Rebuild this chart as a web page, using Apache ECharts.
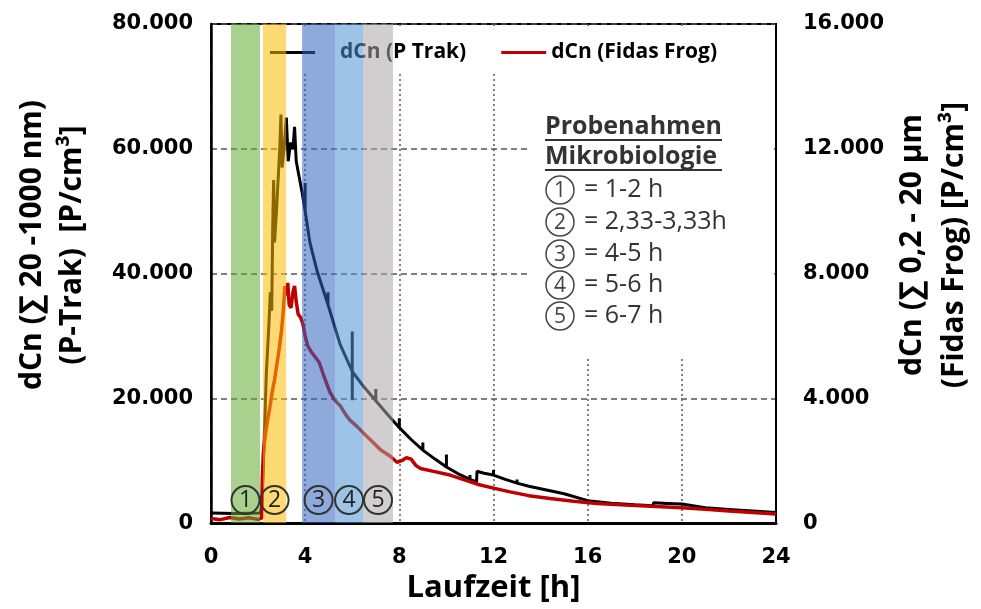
<!DOCTYPE html>
<html>
<head>
<meta charset="utf-8">
<script src="https://cdn.jsdelivr.net/npm/echarts@6/dist/echarts.min.js"></script>
<style>
  html, body { margin: 0; padding: 0; background: #fff; }
  #main { width: 981px; height: 609px; }
</style>
</head>
<body>
<div id="main"></div>
<script>
// P-Trak (linke Achse), [Laufzeit h, P/cm3]
var pTrakData = [
  [0, 1600], [1.0, 1550], [2.1, 1600], [2.17, 3000], [2.25, 12000], [2.35, 24000],
  [2.45, 31000], [2.52, 37000], [2.58, 34000], [2.62, 47000], [2.66, 55000], [2.7, 45000],
  [2.78, 50000], [2.85, 55000], [2.92, 60000], [2.97, 65500], [3.02, 57000], [3.1, 60000],
  [3.2, 65000], [3.28, 58000], [3.38, 61000], [3.48, 60000], [3.55, 63500], [3.62, 58000],
  [3.72, 56000], [3.87, 53000], [4.0, 50000], [4.0, 54500], [4.0, 50000], [4.2, 45000],
  [4.5, 40500], [4.97, 35000], [4.97, 37000], [4.97, 35000], [5.48, 28700], [6.0, 24300],
  [6.0, 30700], [6.0, 19700], [6.0, 24300], [6.5, 21800], [7.0, 19600], [7.0, 21500],
  [7.0, 19600], [7.5, 17400], [8.0, 15300], [8.0, 16800], [8.0, 15300], [8.5, 13400],
  [9.0, 11700], [9.0, 12900], [9.0, 11700], [9.5, 10300], [10.0, 9000], [10.0, 11000],
  [10.0, 9000], [10.5, 7900], [11.0, 7000], [11.0, 7700], [11.0, 7000], [11.28, 6600],
  [11.3, 8300], [11.6, 8000], [12.0, 7700], [12.0, 8500], [12.0, 7700], [12.5, 7000],
  [13.0, 6400], [13.0, 7000], [13.0, 6400], [13.5, 5900], [14.0, 5500], [14.0, 5800],
  [14.0, 5500], [15.0, 4700], [15.0, 5000], [15.0, 4700], [16.0, 3600], [17.0, 3200],
  [18.0, 2950], [18.78, 2800], [18.8, 3250], [19.4, 3150], [20.0, 3050], [20.05, 2750],
  [21.0, 2450], [22.0, 2200], [23.0, 1950], [24.0, 1700]
];

// Fidas Frog (rechte Achse), [Laufzeit h, P/cm3]
var fidasData = [
  [0, 150], [0.4, 110], [0.8, 180], [1.2, 130], [1.6, 170], [2.0, 120], [2.15, 160],
  [2.18, 1400], [2.22, 2200], [2.3, 2800], [2.4, 3300], [2.5, 3700], [2.6, 4200],
  [2.7, 4600], [2.8, 5100], [2.9, 5600], [3.0, 6200], [3.08, 6900], [3.14, 7600],
  [3.2, 7300], [3.26, 7700], [3.32, 7000], [3.4, 6900], [3.48, 7400], [3.55, 7600],
  [3.62, 7100], [3.7, 6700], [3.8, 6600], [3.9, 6400], [4.0, 6000], [4.1, 5700],
  [4.25, 5500], [4.4, 5350], [4.6, 5150], [4.8, 4700], [5.05, 4200], [5.25, 3950],
  [5.5, 3750], [5.7, 3500], [5.9, 3300], [6.2, 3100], [6.46, 2900], [6.8, 2650],
  [7.2, 2350], [7.6, 2150], [7.9, 1950], [8.1, 2000], [8.3, 2100], [8.5, 2050],
  [8.7, 1850], [8.9, 1750], [9.5, 1650], [10.15, 1540], [10.8, 1380], [11.4, 1230],
  [12.0, 1120], [12.7, 1000], [13.5, 880], [14.4, 790], [15.4, 700], [16.4, 630],
  [17.6, 580], [18.9, 535], [20.0, 490], [21.0, 440], [22.0, 390], [23.0, 340], [24.0, 290]
];

// Probenahme-Fenster (Stunden)
var windowStart = [0.85, 2.21, 3.87, 5.27, 6.46];
var windowEnd = [2.08, 3.19, 5.27, 6.46, 7.73];
var windowLabels = ['1', '2', '3', '4', '5'];
var windowColors = ['rgba(98,171,49,0.55)', 'rgba(255,186,0,0.55)', 'rgba(49,98,189,0.55)',
                    'rgba(76,145,209,0.55)', 'rgba(169,165,167,0.55)'];

var annotationRows = ['= 1-2 h', '= 2,33-3,33h', '= 4-5 h', '= 5-6 h', '= 6-7 h'];

var FONT = '"Open Sans", "DejaVu Sans", sans-serif';
var TICKFONT = '"DejaVu Sans", sans-serif';

function fmt(v) {
    return String(v).replace(/\B(?=(\d{3})+(?!\d))/g, '.');
}

var chart = echarts.init(document.getElementById('main'));

var areas = [];
for (var i = 0; i < windowStart.length; i++) {
    areas.push([
        { name: windowLabels[i], xAxis: windowStart[i], itemStyle: { color: windowColors[i] } },
        { xAxis: windowEnd[i] }
    ]);
}

var graphics = [
    { type: 'rect', z: 1, shape: { x: 213, y: 26, width: 561, height: 46 }, style: { fill: '#fff' } },
    { type: 'rect', z: 1, shape: { x: 528, y: 72, width: 246, height: 285 }, style: { fill: '#fff' } },
    { type: 'text', z: 20, x: 52, y: 245, rotation: Math.PI / 2,
      style: { text: 'dCn (\u2211 20 -1000 nm)\n(P-Trak)  [P/cm\u00b3]', font: 'bold 30px ' + FONT,
               fill: '#000', align: 'center', verticalAlign: 'middle', lineHeight: 40 } },
    { type: 'text', z: 20, x: 933, y: 245, rotation: Math.PI / 2,
      style: { text: 'dCn (\u2211 0,2 - 20 \u00b5m\n(Fidas Frog) [P/cm\u00b3]', font: 'bold 30px ' + FONT,
               fill: '#000', align: 'center', verticalAlign: 'middle', lineHeight: 42 } },
    { type: 'text', z: 20, x: 545, y: 127,
      style: { text: 'Probenahmen', font: 'bold 25px ' + FONT, fill: '#333', verticalAlign: 'middle' } },
    { type: 'line', z: 20, shape: { x1: 545, y1: 140, x2: 722, y2: 140 }, style: { stroke: '#333', lineWidth: 2 } },
    { type: 'text', z: 20, x: 545, y: 157,
      style: { text: 'Mikrobiologie', font: 'bold 25px ' + FONT, fill: '#333', verticalAlign: 'middle' } },
    { type: 'line', z: 20, shape: { x1: 545, y1: 170, x2: 722, y2: 170 }, style: { stroke: '#333', lineWidth: 2 } }
];
var rowY = [190, 222, 254, 285, 316];
for (var j = 0; j < annotationRows.length; j++) {
    graphics.push({ type: 'circle', z: 20, shape: { cx: 560, cy: rowY[j], r: 14 },
                    style: { fill: 'none', stroke: '#444', lineWidth: 1.5 } });
    graphics.push({ type: 'text', z: 20, x: 560, y: rowY[j] + 1,
                    style: { text: windowLabels[j], font: '21px ' + FONT, fill: '#444', align: 'center', verticalAlign: 'middle' } });
    graphics.push({ type: 'text', z: 20, x: 584, y: rowY[j],
                    style: { text: annotationRows[j], font: '25px ' + FONT, fill: '#333', verticalAlign: 'middle' } });
}

var option = {
    animation: false,
    backgroundColor: '#fff',
    textStyle: { fontFamily: FONT },
    grid: { left: 211, right: 205, top: 24, bottom: 77, containLabel: false,
            show: true, borderColor: '#000', borderWidth: 2 },
    legend: {
        top: 37, left: 265, itemWidth: 45, itemHeight: 3, itemGap: 35, icon: 'rect',
        textStyle: { fontSize: 21, fontWeight: 'bold', color: '#000', fontFamily: FONT },
        data: [{ name: 'dCn (P Trak)', textStyle: { padding: [0, 0, 0, 20] } }, { name: 'dCn (Fidas Frog)' }]
    },
    xAxis: {
        type: 'value', min: 0, max: 24, interval: 4,
        name: 'Laufzeit [h]', nameLocation: 'middle', nameGap: 40,
        nameTextStyle: { fontSize: 31, fontWeight: 'bold', color: '#000', fontFamily: FONT },
        axisLine: { lineStyle: { color: '#000', width: 3 } },
        axisTick: { show: false },
        axisLabel: { margin: 24, color: '#000', fontWeight: 'bold', fontSize: 21, fontFamily: TICKFONT },
        splitLine: { show: true, lineStyle: { type: [2, 3], color: '#555', width: 1.5 } }
    },
    yAxis: [{
        type: 'value', min: 0, max: 80000, interval: 20000, position: 'left',
        axisLine: { show: true, lineStyle: { color: '#000', width: 2.5 } },
        axisTick: { show: false },
        axisLabel: { margin: 18, color: '#000', fontWeight: 'bold', fontSize: 21, fontFamily: TICKFONT, formatter: fmt },
        splitLine: { show: true, lineStyle: { type: [6, 4], color: '#555', width: 1.5 } }
    }, {
        type: 'value', min: 0, max: 16000, interval: 4000, position: 'right',
        axisLine: { show: true, lineStyle: { color: '#000', width: 2 } },
        axisTick: { show: false },
        axisLabel: { margin: 27, color: '#000', fontWeight: 'bold', fontSize: 21, fontFamily: TICKFONT, formatter: fmt },
        splitLine: { show: false }
    }],
    graphic: graphics,
    series: [{
        name: 'dCn (P Trak)', type: 'line', yAxisIndex: 0, data: pTrakData,
        symbol: 'none', z: 2,
        lineStyle: { color: '#000', width: 3 }, itemStyle: { color: '#000' }
    }, {
        name: 'dCn (Fidas Frog)', type: 'line', yAxisIndex: 1, data: fidasData,
        symbol: 'none', z: 3,
        lineStyle: { color: '#c00000', width: 3.5 }, itemStyle: { color: '#c00000' }
    }, {
        name: 'Probenahmen', type: 'line', yAxisIndex: 0, data: [], z: 10,
        markArea: {
            silent: true, z: 10,
            label: {
                show: true, position: 'insideBottom', distance: 9,
                formatter: function (p) { return '{c|' + p.name + '}'; },
                rich: {
                    c: { width: 28, height: 28, lineHeight: 28, borderRadius: 14, borderWidth: 2,
                         borderColor: '#333', color: '#222', fontSize: 23, align: 'center',
                         verticalAlign: 'middle', fontFamily: FONT }
                }
            },
            data: areas
        }
    }]
};

chart.setOption(option);
</script>
</body>
</html>
